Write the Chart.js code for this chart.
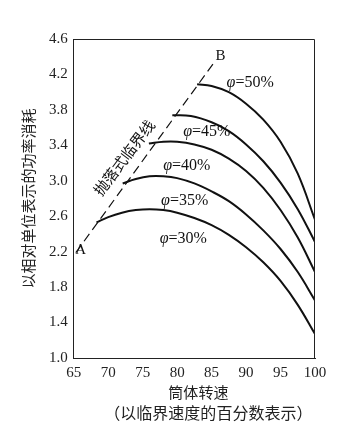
<!DOCTYPE html>
<html>
<head>
<meta charset="utf-8">
<script src="https://cdn.jsdelivr.net/npm/chart.js@4.4.1/dist/chart.umd.min.js"></script>
<style>
  html, body { margin: 0; padding: 0; background: #fff; }
  #wrap { width: 346px; height: 424px; }
</style>
</head>
<body>
<div id="wrap"><canvas id="powerChart" width="346" height="424"></canvas></div>
<script>
// power draw vs. mill speed, one curve per filling ratio
var seriesNames = ['φ=30%', 'φ=35%', 'φ=40%', 'φ=45%', 'φ=50%'];

var speed30 = [68.3, 70, 72, 74, 76, 78, 80, 82.5, 85, 87.5, 90, 92.5, 95, 97.5, 100];
var power30 = [2.53, 2.59, 2.64, 2.67, 2.68, 2.67, 2.64, 2.58, 2.50, 2.39, 2.25, 2.08, 1.87, 1.60, 1.27];
var speed35 = [72.1, 74, 76, 78, 80, 82.5, 85, 87.5, 90, 92.5, 95, 97.5, 100];
var power35 = [2.97, 3.02, 3.05, 3.05, 3.03, 2.97, 2.88, 2.77, 2.62, 2.44, 2.23, 1.97, 1.65];
var speed40 = [75.9, 78, 80, 82.5, 85, 87.5, 90, 92.5, 95, 97.5, 100];
var power40 = [3.42, 3.44, 3.44, 3.41, 3.35, 3.25, 3.11, 2.92, 2.67, 2.36, 1.97];
var speed45 = [79.3, 82, 85, 87.5, 90, 92.5, 95, 97.5, 100];
var power45 = [3.74, 3.73, 3.66, 3.56, 3.41, 3.22, 2.98, 2.68, 2.31];
var speed50 = [82.9, 85, 87.5, 90, 92.5, 95, 97.5, 100];
var power50 = [4.09, 4.07, 4.00, 3.87, 3.69, 3.44, 3.08, 2.56];

// cataracting critical line A-B
var critSpeed = [65.3, 85.6];
var critPower = [2.19, 4.36];

var xTicks = [65, 70, 75, 80, 85, 90, 95, 100];
var yTicks = [1.0, 1.4, 1.8, 2.2, 2.6, 3.0, 3.4, 3.8, 4.2, 4.6];

function pts(xs, ys) {
  return xs.map(function(x, i) { return {x: x, y: ys[i]}; });
}

function curve(label, xs, ys) {
  return {
    label: label,
    data: pts(xs, ys),
    borderColor: '#111',
    borderWidth: 2,
    pointRadius: 0,
    fill: false,
    tension: 0.4
  };
}

// text written on the plot, in data units
var notes = [
  {text: 'φ=50%', x: 90.6, y: 4.11},
  {text: 'φ=45%', x: 84.3, y: 3.55},
  {text: 'φ=40%', x: 81.4, y: 3.17},
  {text: 'φ=35%', x: 81.1, y: 2.77},
  {text: 'φ=30%', x: 80.9, y: 2.35}
];

var serif = '"Liberation Serif", "DejaVu Serif", serif';
var cjk = '"Noto Sans CJK SC", sans-serif';

var overlay = {
  id: 'overlay',
  afterDatasetsDraw: function(chart) {
    var ctx = chart.ctx;
    var xs = chart.scales.x, ys = chart.scales.y;
    var a = chart.chartArea;
    ctx.save();
    // top and right frame lines
    ctx.strokeStyle = '#222';
    ctx.lineWidth = 1;
    ctx.beginPath();
    ctx.moveTo(a.left, a.top + 0.5);
    ctx.lineTo(a.right - 0.5, a.top + 0.5);
    ctx.lineTo(a.right - 0.5, a.bottom);
    ctx.stroke();

    ctx.fillStyle = '#111';
    ctx.textBaseline = 'middle';
    notes.forEach(function(n) {
      var px = xs.getPixelForValue(n.x), py = ys.getPixelForValue(n.y);
      var phi = 'φ', rest = n.text.slice(1);
      ctx.font = '16px ' + serif;
      var wRest = ctx.measureText(rest).width;
      ctx.font = 'italic 16px ' + serif;
      var wPhi = ctx.measureText(phi).width;
      var start = px - (wPhi + wRest) / 2;
      ctx.textAlign = 'left';
      ctx.fillText(phi, start, py);
      ctx.font = '16px ' + serif;
      ctx.fillText(rest, start + wPhi, py);
    });

    ctx.textAlign = 'center';
    ctx.font = '15px ' + serif;
    ctx.fillText('A', xs.getPixelForValue(66.0), ys.getPixelForValue(2.22));
    ctx.fillText('B', xs.getPixelForValue(86.3), ys.getPixelForValue(4.41));

    // x-axis title, two lines under the tick labels
    ctx.fillStyle = '#222';
    ctx.font = '15px ' + cjk;
    ctx.fillText('筒体转速', (a.left + a.right) / 2 + 4, a.bottom + 34);
    ctx.font = '16px ' + cjk;
    ctx.fillText('（以临界速度的百分数表示）', (a.left + a.right) / 2 + 14, a.bottom + 55);

    ctx.fillStyle = '#111';
    ctx.translate(xs.getPixelForValue(72.3), ys.getPixelForValue(3.26));
    ctx.rotate(-53 * Math.PI / 180);
    ctx.font = '15px ' + cjk;
    ctx.fillText('抛落式临界线', 0, 0);
    ctx.restore();
  }
};

var ctx = document.getElementById('powerChart');
var chart = new Chart(ctx, {
  type: 'line',
  data: {
    datasets: [
      curve(seriesNames[0], speed30, power30),
      curve(seriesNames[1], speed35, power35),
      curve(seriesNames[2], speed40, power40),
      curve(seriesNames[3], speed45, power45),
      curve(seriesNames[4], speed50, power50),
      {
        label: '抛落式临界线',
        data: pts(critSpeed, critPower),
        borderColor: '#111',
        borderWidth: 1.2,
        borderDash: [9, 5],
        pointRadius: 0,
        fill: false
      }
    ]
  },
  options: {
    responsive: false,
    animation: false,
    layout: {padding: {left: 19, right: 31, top: 39, bottom: 39}},
    plugins: {
      legend: {display: false},
      tooltip: {enabled: false}
    },
    scales: {
      x: {
        type: 'linear',
        min: 65,
        max: 100,
        afterBuildTicks: function(s) { s.ticks = xTicks.map(function(v) { return {value: v}; }); },
        grid: {display: false, drawTicks: true, tickLength: 3},
        border: {color: '#222', width: 1},
        ticks: {color: '#222', font: {family: serif, size: 15}, padding: 3, maxRotation: 0},
        title: {display: false}
      },
      y: {
        type: 'linear',
        min: 1.0,
        max: 4.6,
        afterBuildTicks: function(s) { s.ticks = yTicks.map(function(v) { return {value: v}; }); },
        grid: {display: false, drawTicks: true, tickLength: 4},
        border: {color: '#222', width: 1},
        ticks: {
          color: '#222',
          font: {family: serif, size: 15},
          padding: 2,
          callback: function(v) { return Number(v).toFixed(1); }
        },
        title: {
          display: true,
          text: '以相对单位表示的功率消耗',
          color: '#222',
          font: {family: cjk, size: 15},
          padding: {top: 0, bottom: 10}
        }
      }
    }
  },
  plugins: [overlay]
});
</script>
</body>
</html>
